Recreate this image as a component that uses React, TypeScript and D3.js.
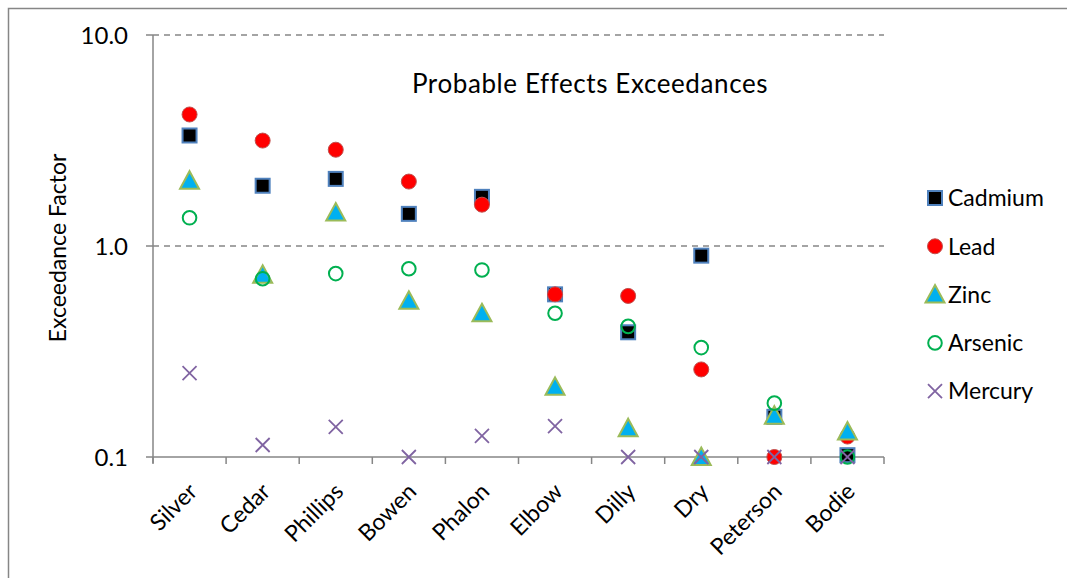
import React from "react";
import * as d3 from "d3";

const sites = ["Silver", "Cedar", "Phillips", "Bowen", "Phalon", "Elbow", "Dilly", "Dry", "Peterson", "Bodie"];
const cadmium = [3.34, 1.93, 2.08, 1.42, 1.71, 0.59, 0.39, 0.9, 0.155, 0.102];
const lead = [4.2, 3.16, 2.86, 2.02, 1.57, 0.59, 0.58, 0.26, 0.1, 0.125];
const zinc = [2.04, 0.73, 1.44, 0.55, 0.48, 0.215, 0.137, 0.1, 0.157, 0.132];
const arsenic = [1.36, 0.7, 0.74, 0.78, 0.77, 0.48, 0.416, 0.33, 0.18, 0.1];
const mercury = [0.25, 0.114, 0.139, 0.1, 0.126, 0.14, 0.1, 0.1, 0.1, 0.1];
const yTicks = [0.1, 1, 10];

const series = [
  { name: "Cadmium", values: cadmium, shape: "square" },
  { name: "Lead", values: lead, shape: "circle" },
  { name: "Zinc", values: zinc, shape: "triangle" },
  { name: "Arsenic", values: arsenic, shape: "ring" },
  { name: "Mercury", values: mercury, shape: "cross" },
];

const FONT = "Lato, 'Open Sans', sans-serif";

function Marker({ shape, x, y }: { shape: string; x: number; y: number }) {
  if (shape === "square")
    return <rect x={x - 7} y={y - 7} width={14} height={14} fill="#000" stroke="#4F81BD" strokeWidth={2} />;
  if (shape === "circle")
    return <circle cx={x} cy={y} r={7.5} fill="#FF0000" stroke="#C0504D" strokeWidth={1} />;
  if (shape === "triangle")
    return (
      <path
        d={`M${x},${y - 9.5}L${x + 9.5},${y + 8}L${x - 9.5},${y + 8}Z`}
        fill="#00B0F0"
        stroke="#9BBB59"
        strokeWidth={2}
      />
    );
  if (shape === "ring")
    return <circle cx={x} cy={y} r={6.8} fill="none" stroke="#00B050" strokeWidth={2} />;
  return (
    <path
      d={`M${x - 7},${y - 7}L${x + 7},${y + 7}M${x + 7},${y - 7}L${x - 7},${y + 7}`}
      stroke="#8064A2"
      strokeWidth={1.8}
      fill="none"
    />
  );
}

export default function App() {
  const width = 1067;
  const height = 578;
  const left = 153, right = 884, top = 35, bottom = 457;

  const x = d3.scaleBand<string>().domain(sites).range([left, right]);
  const y = d3.scaleLog().domain([0.1, 10]).range([bottom, top]);
  const axisColor = "#868686";

  return (
    <svg
      width={width}
      height={height}
      style={{ position: "absolute", left: 0, top: 0 }}
      fontFamily={FONT}
    >
      <rect x={0} y={0} width={width} height={height} fill="#fff" />
      <rect x={8.5} y={8.5} width={width + 10} height={height + 10} fill="none" stroke={axisColor} strokeWidth={1.5} />

      {/* gridlines */}
      {yTicks.filter((t) => t > 0.1).map((t) => (
        <line
          key={t}
          x1={left}
          x2={right}
          y1={y(t)}
          y2={y(t)}
          stroke={axisColor}
          strokeWidth={1.3}
          strokeDasharray="6,5"
        />
      ))}

      {/* y axis */}
      <line x1={left} x2={left} y1={top} y2={bottom + 6} stroke={axisColor} strokeWidth={1.5} />
      {yTicks.map((t) => (
        <g key={t}>
          <line x1={left - 7} x2={left} y1={y(t)} y2={y(t)} stroke={axisColor} strokeWidth={1.5} />
          <text x={128} y={y(t)} dy="0.36em" textAnchor="end" fontSize={24} fill="#000">
            {t.toFixed(1)}
          </text>
        </g>
      ))}
      <text
        transform={`translate(66,${(top + bottom) / 2 + 2}) rotate(-90)`}
        textAnchor="middle"
        fontSize={23}
        fill="#000"
      >
        Exceedance Factor
      </text>

      {/* x axis */}
      <line x1={left} x2={right} y1={bottom} y2={bottom} stroke={axisColor} strokeWidth={1.5} />
      {d3.range(sites.length + 1).map((i) => {
        const xx = left + i * x.bandwidth();
        return <line key={i} x1={xx} x2={xx} y1={bottom} y2={bottom + 7} stroke={axisColor} strokeWidth={1.5} />;
      })}
      {sites.map((s) => {
        const cx = (x(s) as number) + x.bandwidth() / 2;
        return (
          <text
            key={s}
            transform={`translate(${cx + 9},${bottom + 36}) rotate(-45)`}
            textAnchor="end"
            fontSize={23}
            fill="#000"
          >
            {s}
          </text>
        );
      })}

      {/* title */}
      <text x={590} y={93} textAnchor="middle" fontSize={26} letterSpacing={0.6} fill="#000">
        Probable Effects Exceedances
      </text>

      {/* points */}
      {series.map((se) => (
        <g key={se.name}>
          {se.values.map((v, i) => (
            <Marker key={i} shape={se.shape} x={(x(sites[i]) as number) + x.bandwidth() / 2} y={y(v)} />
          ))}
        </g>
      ))}

      {/* legend */}
      {series.map((se, i) => {
        const ly = 198 + i * 48.3;
        return (
          <g key={se.name}>
            <Marker shape={se.shape} x={935} y={ly} />
            <text x={948} y={ly} dy="0.36em" fontSize={23} fill="#000">
              {se.name}
            </text>
          </g>
        );
      })}
    </svg>
  );
}
